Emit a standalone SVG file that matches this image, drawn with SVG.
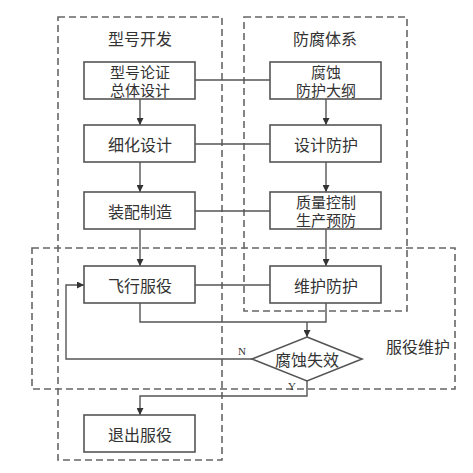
<svg xmlns="http://www.w3.org/2000/svg" width="473" height="473" viewBox="0 0 473 473">
<defs>
<style>
.grp{fill:none;stroke:#666;stroke-width:1.6;stroke-dasharray:7,4}
.box{fill:#fff;stroke:#555;stroke-width:1.6}
.ln{fill:none;stroke:#555;stroke-width:1.4}
.t{font-family:"Noto Sans CJK SC","Noto Sans",sans-serif;font-size:16px;fill:#333;text-anchor:middle;dominant-baseline:central}
.t2{font-size:15px}
.s{font-family:"Liberation Serif",serif;font-size:11px;fill:#333;text-anchor:middle;dominant-baseline:central}
</style>
<marker id="ah" viewBox="0 0 10 10" refX="10" refY="5" markerWidth="7" markerHeight="7" orient="auto" markerUnits="userSpaceOnUse">
<path d="M0,0 L10,5 L0,10 z" fill="#333"/>
</marker>
</defs>
<rect width="473" height="473" fill="#fff"/>
<g id="group-dev"><rect class="grp" x="58" y="17" width="164" height="443"/><text class="t" x="140" y="38">型号开发</text></g>
<g id="group-anti"><rect class="grp" x="244" y="17" width="163" height="294"/><text class="t" x="325" y="38">防腐体系</text></g>
<g id="group-service"><rect class="grp" x="32" y="248" width="423" height="141"/><text class="t" x="418" y="346">服役维护</text></g>
<g id="connectors">
<line class="ln" x1="195" y1="80" x2="270" y2="80"/>
<line class="ln" x1="195" y1="144" x2="270" y2="144"/>
<line class="ln" x1="195" y1="211" x2="270" y2="211"/>
<line class="ln" x1="195" y1="285" x2="270" y2="285"/>
<line class="ln" x1="140" y1="99" x2="140" y2="125" marker-end="url(#ah)"/>
<line class="ln" x1="140" y1="162" x2="140" y2="192" marker-end="url(#ah)"/>
<line class="ln" x1="140" y1="229" x2="140" y2="266" marker-end="url(#ah)"/>
<line class="ln" x1="326" y1="99" x2="326" y2="125" marker-end="url(#ah)"/>
<line class="ln" x1="326" y1="162" x2="326" y2="192" marker-end="url(#ah)"/>
<line class="ln" x1="326" y1="229" x2="326" y2="266" marker-end="url(#ah)"/>
<polyline class="ln" points="140,303 140,322 326,322 326,303"/>
<line class="ln" x1="307" y1="322" x2="307" y2="337" marker-end="url(#ah)"/>
<polyline class="ln" points="252,359 66,359 66,285 84,285" marker-end="url(#ah)"/>
<polyline class="ln" points="307,381 307,396 140,396 140,415" marker-end="url(#ah)"/>
<text class="s" x="242" y="351">N</text>
<text class="s" x="292" y="386">Y</text>
</g>
<g id="n1"><rect class="box" x="84" y="62" width="111" height="37"/><text class="t t2" x="140" y="71"><tspan x="140" y="71">型号论证</tspan><tspan x="140" y="89">总体设计</tspan></text></g>
<g id="n2"><rect class="box" x="84" y="125" width="111" height="37"/><text class="t" x="140" y="144">细化设计</text></g>
<g id="n3"><rect class="box" x="84" y="192" width="111" height="37"/><text class="t" x="140" y="211">装配制造</text></g>
<g id="n4"><rect class="box" x="84" y="266" width="111" height="37"/><text class="t" x="140" y="285">飞行服役</text></g>
<g id="n5"><rect class="box" x="84" y="415" width="111" height="37"/><text class="t" x="140" y="434">退出服役</text></g>
<g id="m1"><rect class="box" x="270" y="62" width="111" height="37"/><text class="t t2" x="326" y="71"><tspan x="326" y="71">腐蚀</tspan><tspan x="326" y="89">防护大纲</tspan></text></g>
<g id="m2"><rect class="box" x="270" y="125" width="111" height="37"/><text class="t" x="326" y="144">设计防护</text></g>
<g id="m3"><rect class="box" x="270" y="192" width="111" height="37"/><text class="t t2" x="326" y="201"><tspan x="326" y="201">质量控制</tspan><tspan x="326" y="219">生产预防</tspan></text></g>
<g id="m4"><rect class="box" x="270" y="266" width="111" height="37"/><text class="t" x="326" y="285">维护防护</text></g>
<g id="d1"><polygon class="box" points="307,337 362,359 307,381 252,359"/><text class="t" x="307" y="359">腐蚀失效</text></g>
</svg>
